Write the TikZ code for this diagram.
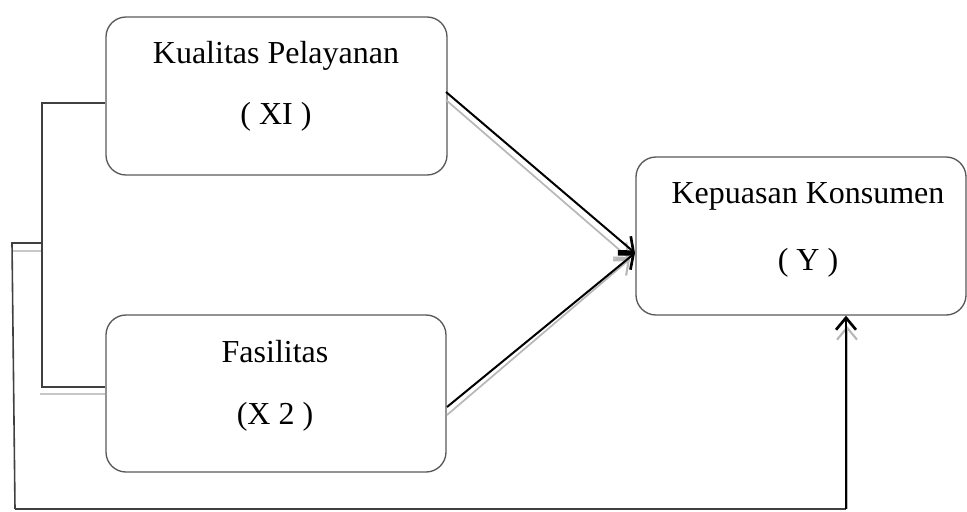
\documentclass[tikz,border=0pt]{standalone}
\usepackage{fontspec}
\setmainfont{Liberation Serif}
\usetikzlibrary{arrows.meta}
\begin{document}
\begin{tikzpicture}[x=0.75pt,y=-0.75pt,
  box/.style={draw=black!65, line width=1pt, rounded corners=15pt, inner sep=0pt},
  lbl/.style={anchor=base, inner sep=0pt, font=\fontsize{24}{28}\selectfont},
  link/.style={draw=black!75, line width=1.2pt},
  shade/.style={draw=black!22, line width=1.2pt},
  conn/.style={draw=black, line width=1.5pt, -{Straight Barb[length=9pt,width=15pt,line width=2pt]}},
  connshade/.style={draw=black!28, line width=1.3pt, -{Straight Barb[length=9pt,width=15pt,line width=1.6pt]}}]
\useasboundingbox (0,0) rectangle (967,511);

% boxes
\node[box, minimum width=255.75pt, minimum height=118.5pt] (k1) at (276.5,96) {};
\node[box, minimum width=255pt, minimum height=117.75pt] (k2) at (276,393.5) {};
\node[box, minimum width=247.5pt, minimum height=118.5pt] (ky) at (801,236) {};

% texts
\node[lbl] (t1a) at (276,63) {Kualitas Pelayanan};
\node[lbl] (t1b) at (276,124) {( XI )};
\node[lbl] (t2a) at (275,362) {Fasilitas};
\node[lbl] (t2b) at (275,424) {(X 2 )};
\node[lbl] (tya) at (808,203) {Kepuasan Konsumen};
\node[lbl] (tyb) at (808,270) {( Y )};

% left bracket
\coordinate (b1) at (42,103);
\coordinate (b2) at (42,387);
\coordinate (bm) at (42,243);
\coordinate (lt) at (12,243);
\coordinate (lb) at (15,509);
\coordinate (rb) at (846,509);
\draw[link] (k1.west |- b1) -- (b1) -- (b2) -- (k2.west |- b2);
\draw[shade] (40,394) -- (k2.west |- 0,394);
\draw[link] (bm) -- (lt) -- (lb);
\draw[shade] (13,251) -- (41,251);
\draw[link] (lb) -- (rb);

% bottom arrow into Y
\draw[connshade] (847,509) -- (847,326);
\draw[conn] (rb) -- (ky.south -| rb) ;

% arrows from X1 and X2
\coordinate (s1) at (446,92);
\coordinate (s2) at (447,407);
\coordinate (tg) at (635,253);
\draw[connshade] (446,100) -- (630,259);
\draw[connshade] (447,415) -- (630,259);
\draw[conn] (s1) -- (tg);
\draw[conn] (s2) -- (tg);
\end{tikzpicture}
\end{document}
